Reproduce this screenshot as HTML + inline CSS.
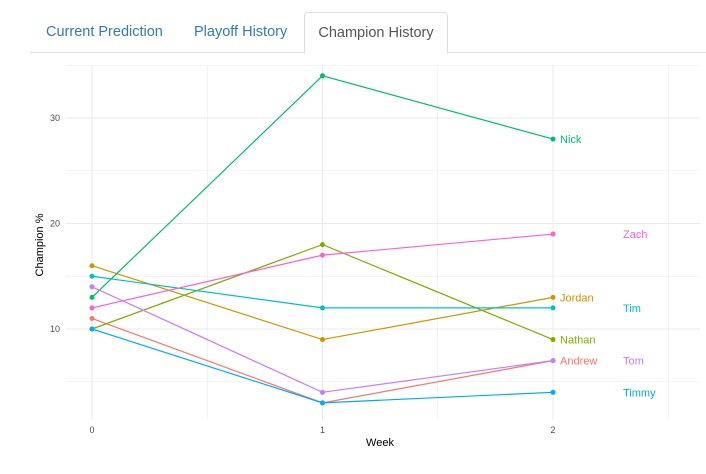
<!DOCTYPE html>
<html><head><meta charset="utf-8"><style>
body{margin:0;width:706px;height:474px;background:#fff;font-family:"Liberation Sans",sans-serif;overflow:hidden;position:relative}
.tab{position:absolute;top:12px;height:41px;line-height:41px;font-size:14.5px;color:#337ab7;white-space:nowrap;box-sizing:border-box}
.nav{position:absolute;left:30px;right:0;top:52px;border-bottom:1px solid #ddd}
.active{border:1px solid #ddd;border-bottom:1px solid #fff;border-radius:4px 4px 0 0;color:#555;background:#fff;height:42px;text-align:center}
</style></head><body>
<div class="nav"></div>
<div class="tab" style="left:46px">Current Prediction</div>
<div class="tab" style="left:194px">Playoff History</div>
<div class="tab active" style="left:304px;width:144px">Champion History</div>
<svg id="chart" width="706" height="474" style="position:absolute;left:0;top:0;pointer-events:none"></svg>
<script>
const weeks=[0,1,2];
const names=["Andrew","Jordan","Nathan","Nick","Tim","Timmy","Tom","Zach"];
const colors=["#F8766D","#CD9600","#7CAE00","#00BE67","#00BFC4","#00A9FF","#C77CFF","#FF61CC"];
const andrew=[11,3,7];
const jordan=[16,9,13];
const nathan=[10,18,9];
const nick=[13,34,28];
const tim=[15,12,12];
const timmy=[10,3,4];
const tom=[14,4,7];
const zach=[12,17,19];
const series=[andrew,jordan,nathan,nick,tim,timmy,tom,zach];
const labelCol=[0,0,0,0,1,1,1,1];
const labelY=[7,13,9,28,12,4,7,19];
const yTicks=[10,20,30];
const xTicks=[0,1,2];
const sx=v=>92+v*230.5, sy=v=>434.5-v*10.55;
const svg=document.getElementById('chart');const NS='http://www.w3.org/2000/svg';
function mk(t,a,p){const e=document.createElementNS(NS,t);for(const k in a)e.setAttribute(k,a[k]);(p||svg).appendChild(e);return e;}
for(let v=5;v<=35;v+=5){const l=mk('line',{x1:66,x2:700,y1:sy(v),y2:sy(v),stroke:'#ebebeb','stroke-width':v%10==0?1:0.6});
}
for(let v=0;v<=2.5;v+=0.5){const l=mk('line',{x1:sx(v),x2:sx(v),y1:65,y2:420,stroke:'#ebebeb','stroke-width':Number.isInteger(v)?1:0.6});
}
yTicks.forEach(v=>{const t=mk('text',{x:60,y:sy(v)+3,'text-anchor':'end','font-size':9,fill:'#4d4d4d'});t.textContent=v;
});
xTicks.forEach(v=>{const t=mk('text',{x:sx(v),y:433,'text-anchor':'middle','font-size':9,fill:'#4d4d4d'});t.textContent=v;
});
let t=mk('text',{x:380,y:446,'text-anchor':'middle','font-size':11,fill:'#000'});t.textContent='Week';

t=mk('text',{x:0,y:0,'text-anchor':'middle','font-size':11,fill:'#000',transform:'translate(43,245) rotate(-90)'});t.textContent='Champion %';

series.forEach((s,i)=>{
 const p=mk('polyline',{points:s.map((v,j)=>sx(weeks[j])+','+sy(v)).join(' '),fill:'none',stroke:colors[i],'stroke-width':1.2});
 
 s.forEach((v,j)=>{const c=mk('circle',{cx:sx(weeks[j]),cy:sy(v),r:2.5,fill:colors[i]});
  });
 const lb=mk('text',{x:labelCol[i]?623:560,y:sy(labelY[i])+4,'font-size':11,fill:colors[i]});lb.textContent=names[i];
 
});
</script>
</body></html>
